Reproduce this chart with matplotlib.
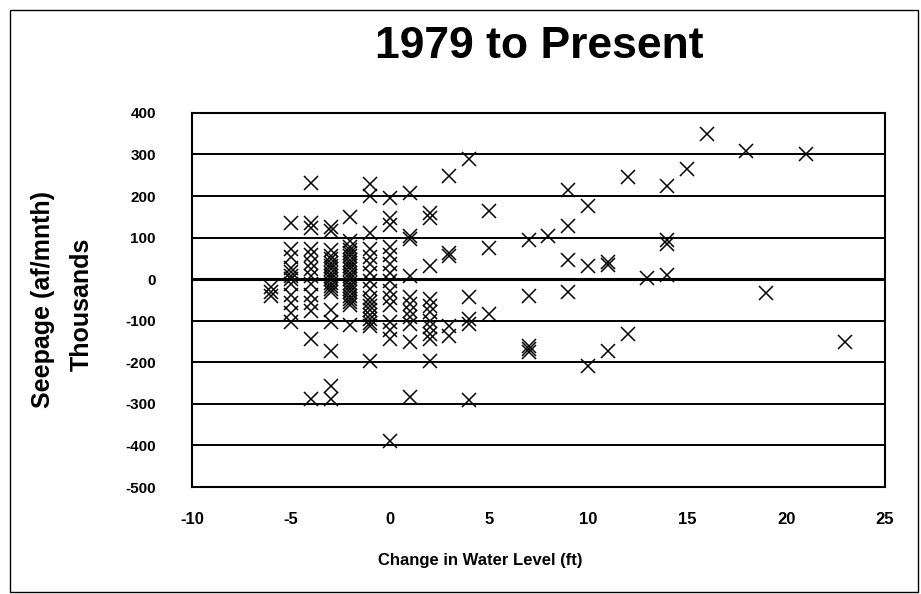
import matplotlib
matplotlib.use("Agg")
import matplotlib.pyplot as plt
from matplotlib.patches import Rectangle

plt.rcParams['font.family'] = ['Liberation Sans', 'DejaVu Sans']
plt.rcParams['font.weight'] = 'bold'
plt.rcParams['axes.unicode_minus'] = False

# change in water level (ft) -> seepage (thousand af/mnth), grouped by level change
level = [-6, -5, -4, -3, -2, -1, 0, 1, 2, 3, 4, 5, 7, 8, 9, 10, 11, 12, 13, 14, 15, 16, 18, 19, 21, 23]
seepage = [
    [-18, -30, -40],
    [134, 73, 53, 28, 18, 8, 0, -12, -37, -57, -81, -102],
    [232, 134, 122, 73, 57, 40, 24, 8, -12, -37, -57, -77, -144, -288],
    [126, 116, 69, 56, 49, 40, 32, 24, 16, 8, 0, -8, -16, -24, -32, -73, -102, -172, -256, -288],
    [150, 93, 77, 70, 62, 55, 47, 40, 32, 24, 16, 8, 0, -8, -16, -24, -32, -40, -48, -55, -61, -110],
    [228, 200, 110, 73, 53, 37, 16, -4, -24, -45, -55, -65, -75, -85, -95, -105, -112, -196],
    [196, 146, 130, 77, 57, 37, 16, -4, -28, -45, -61, -102, -122, -144, -388],
    [208, 104, 96, 8, -44, -60, -76, -92, -108, -152, -284],
    [160, 148, 32, -48, -64, -80, -100, -116, -132, -144, -196],
    [248, 62, 55, -112, -136],
    [290, -42, -96, -108, -291],
    [163, 75, -84],
    [95, -40, -160, -168, -175],
    [104],
    [215, 127, 47, -32],
    [175, 32, -209],
    [35, 42, -172],
    [245, -132],
    [2],
    [225, 85, 95, 10],
    [265],
    [350],
    [308],
    [-34],
    [302],
    [-152],
]

xs = [lv for lv, vals in zip(level, seepage) for _ in vals]
ys = [v for vals in seepage for v in vals]

x_ticks = [-10, -5, 0, 5, 10, 15, 20, 25]
y_ticks = [-500, -400, -300, -200, -100, 0, 100, 200, 300, 400]

fig = plt.figure(figsize=(9.21, 5.94), dpi=100)
ax = fig.add_axes([0.2085, 0.180, 0.7525, 0.630])

# horizontal rules at each 100, heavier at zero
for v in y_ticks[1:-1]:
    ax.axhline(v, color='black', lw=2.2 if v == 0 else 1.4, zorder=1)

ax.plot(xs, ys, linestyle='none', marker='x', color='black',
        markersize=10.5, markeredgewidth=1.1, zorder=2)

ax.set_xlim(-10, 25)
ax.set_ylim(-500, 400)
ax.set_xticks(x_ticks)
ax.set_yticks(y_ticks)
ax.tick_params(axis='both', length=0)
ax.tick_params(axis='x', pad=18, labelsize=12)
ax.tick_params(axis='y', pad=26, labelsize=11)
for s in ax.spines.values():
    s.set_linewidth(1.5)

fig.text(0.586, 0.921, '1979 to Present', ha='center', va='center',
         fontsize=32, fontweight='bold')
fig.text(0.047, 0.495, 'Seepage (af/mnth)', rotation=90, ha='center', va='center',
         fontsize=18, fontweight='bold')
fig.text(0.089, 0.487, 'Thousands', rotation=90, ha='center', va='center',
         fontsize=18, fontweight='bold')
fig.text(0.521, 0.057, 'Change in Water Level (ft)', ha='center', va='center',
         fontsize=12, fontweight='bold')

fig.patches.append(Rectangle((0.011, 0.004), 0.986, 0.98, transform=fig.transFigure,
                             fill=False, edgecolor='black', lw=1))

fig.savefig('out.png', dpi=100)
